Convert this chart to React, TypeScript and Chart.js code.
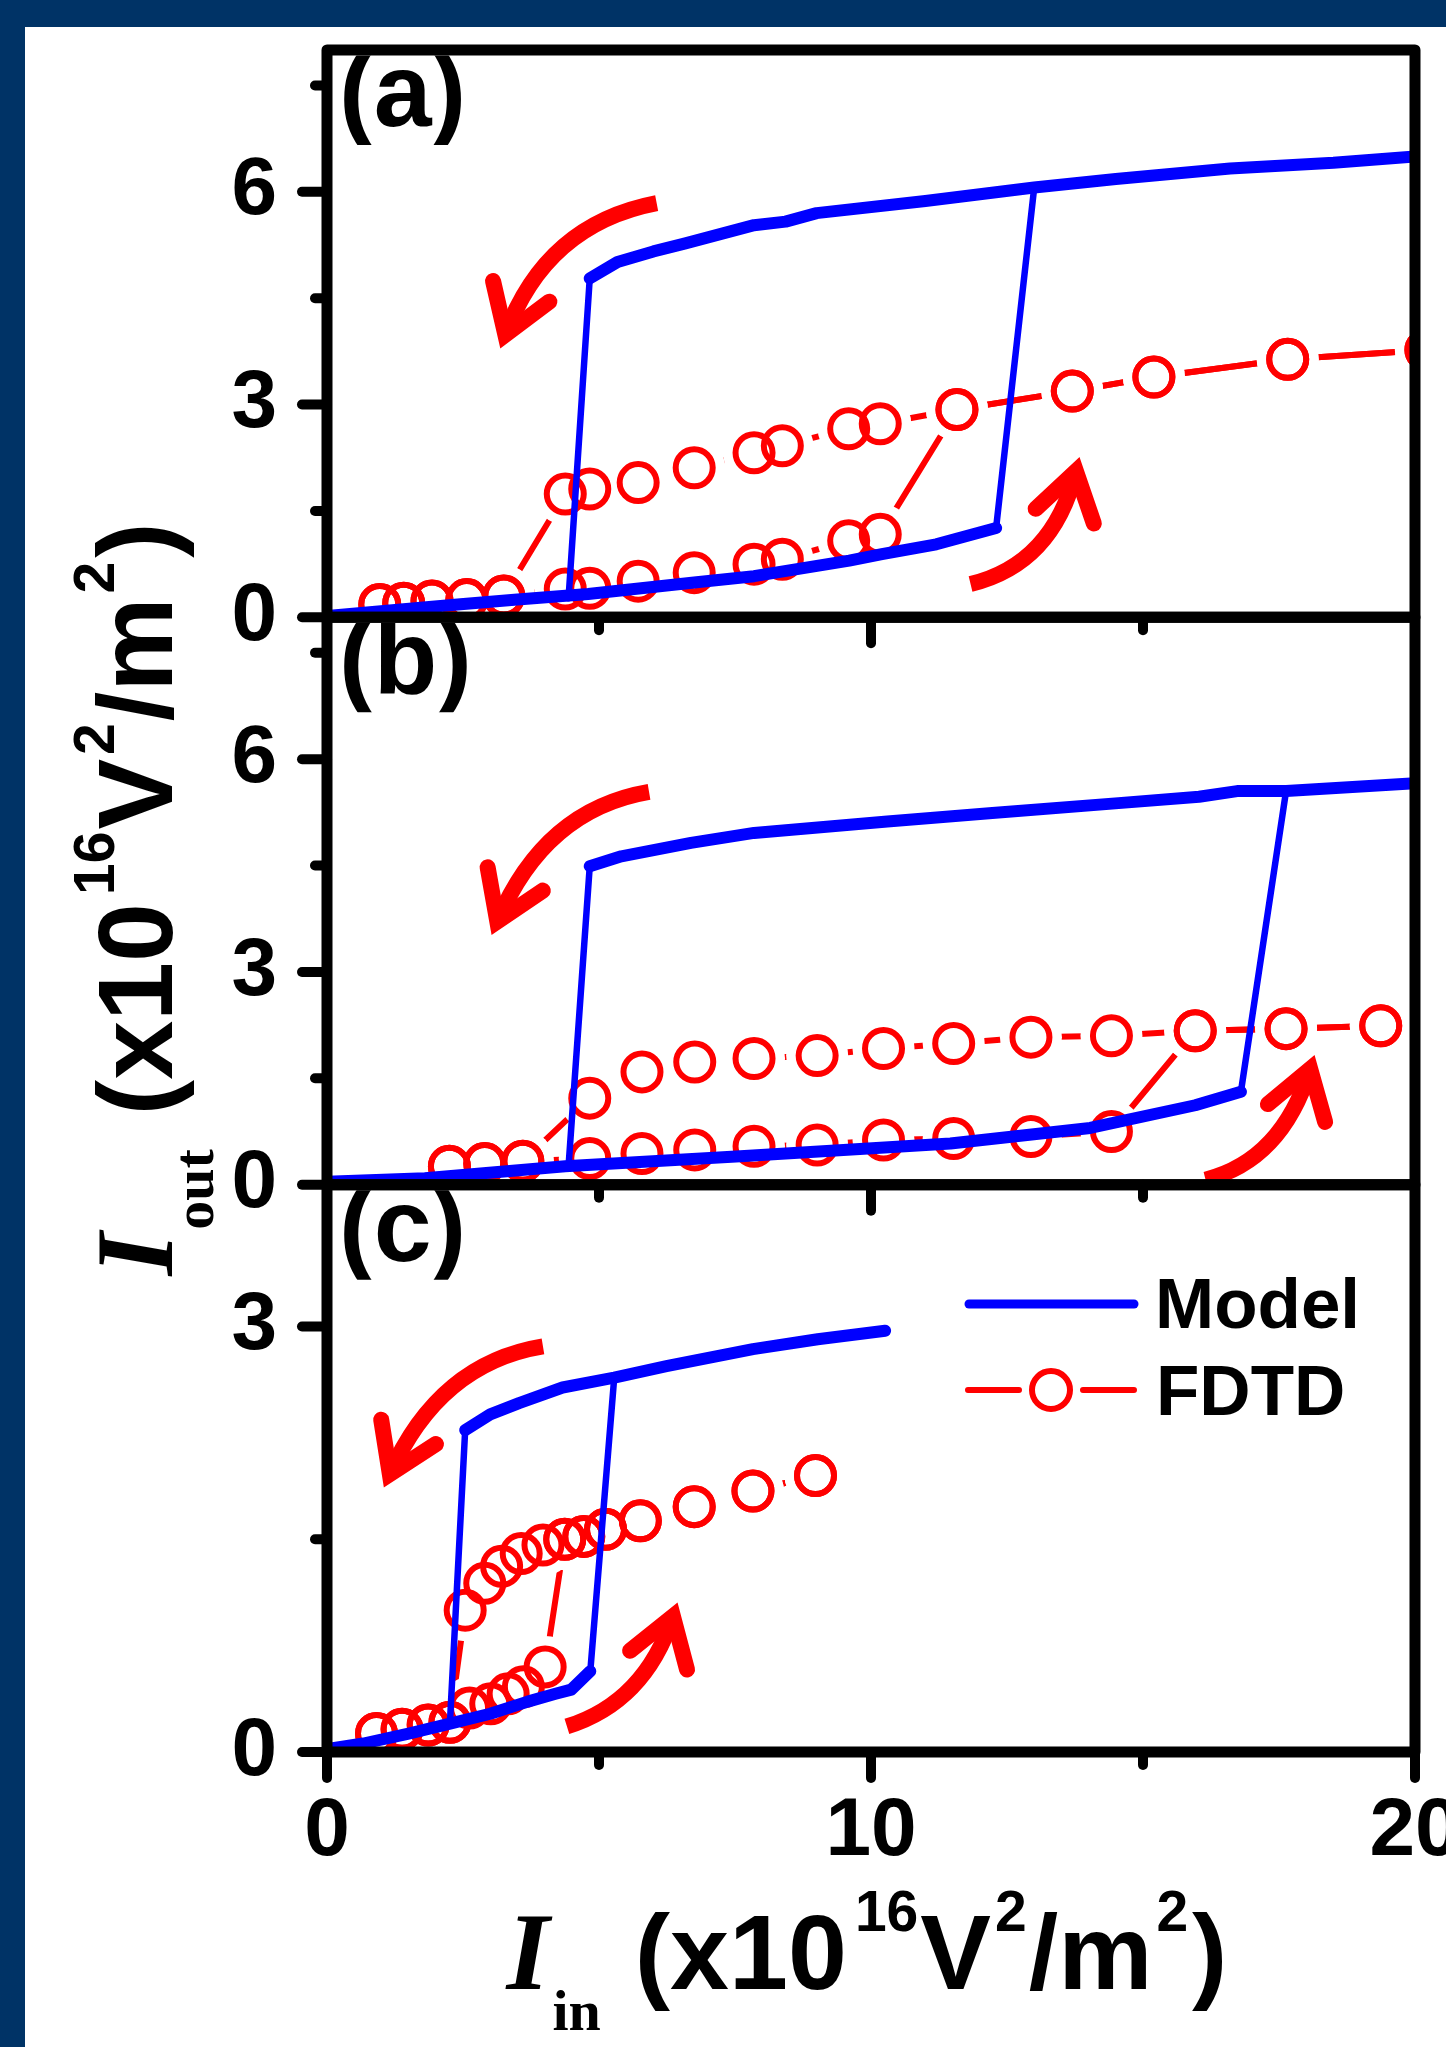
import { useEffect, useRef } from "react";
import { Chart, registerables } from "chart.js";

Chart.register(...registerables);

type P = [number, number];

const W = 1446;
const H = 2047;
const BLUE = "#0000ff";
const RED = "#ff0000";
const SANS = '"Liberation Sans", Arial, sans-serif';
const SERIF = '"Liberation Serif", "Times New Roman", serif';

// ---------- axis ticks ----------
const xMajorTicks = [0, 10, 20];
const xMinorTicks = [5, 15];
const yMajorTicksAB = [0, 3, 6];
const yMinorTicksAB = [1.5, 4.5, 7.5];
const yMajorTicksC = [0, 3];
const yMinorTicksC = [1.5];
const panelLabels = ["(a)", "(b)", "(c)"];
const legendLabels = ["Model", "FDTD"];

// ---------- panel (a) ----------
const aModelLower: P[] = [[0, 0.02], [1.2, 0.1], [2.4, 0.18], [3.5, 0.25], [4.8, 0.33], [6.75, 0.49], [7.85, 0.58], [9.6, 0.8], [10.2, 0.89], [11.2, 1.03], [12.3, 1.26]];
const aModelUpper: P[] = [[4.83, 4.78], [5.34, 5.01], [6.0, 5.16], [6.57, 5.27], [7.85, 5.53], [8.43, 5.58], [9.0, 5.7], [11.0, 5.87], [13.0, 6.06], [14.5, 6.18], [16.6, 6.33], [18.5, 6.41], [20, 6.5]];
const aJumpUp: P[] = [[12.3, 1.26], [13.0, 6.06]];
const aJumpDown: P[] = [[4.83, 4.78], [4.44, 0.27]];
const aFdtdUp: P[] = [[0.97, 0.18], [1.41, 0.2], [1.93, 0.23], [2.57, 0.25], [3.25, 0.3], [4.38, 0.4], [4.83, 0.41], [5.72, 0.51], [6.75, 0.63], [7.85, 0.75], [8.37, 0.82], [9.59, 1.08], [10.17, 1.17], [11.58, 2.93], [13.7, 3.19], [15.2, 3.39], [17.66, 3.64], [20.2, 3.77]];
const aFdtdDown: P[] = [[20.2, 3.77], [17.66, 3.64], [15.2, 3.39], [13.7, 3.19], [11.58, 2.93], [10.17, 2.73], [9.59, 2.66], [8.37, 2.42], [7.85, 2.32], [6.75, 2.11], [5.72, 1.9], [4.83, 1.81], [4.38, 1.74], [3.25, 0.3], [2.57, 0.25], [1.93, 0.23], [1.41, 0.2], [0.97, 0.18]];
const aArrowDown: P[] = [[6.06, 5.84], [4.02, 5.54], [3.19, 3.8]];
const aArrowUp: P[] = [[11.83, 0.47], [13.34, 0.75], [13.83, 2.25]];

// ---------- panel (b) ----------
const bModelLower: P[] = [[0, 0.04], [1.8, 0.09], [4.38, 0.26], [7.6, 0.4], [11.46, 0.58], [14.03, 0.8], [15.96, 1.12], [16.8, 1.31]];
const bModelUpper: P[] = [[4.83, 4.49], [5.41, 4.63], [6.69, 4.82], [7.85, 4.96], [10.3, 5.12], [12.23, 5.24], [14.55, 5.38], [16.03, 5.47], [16.73, 5.55], [17.63, 5.55], [20, 5.66]];
const bJumpUp: P[] = [[16.8, 1.31], [17.63, 5.55]];
const bJumpDown: P[] = [[4.83, 4.49], [4.44, 0.26]];
const bFdtdUp: P[] = [[2.25, 0.26], [2.9, 0.3], [3.6, 0.33], [4.83, 0.37], [5.79, 0.44], [6.76, 0.49], [7.85, 0.54], [9.01, 0.56], [10.23, 0.63], [11.52, 0.65], [12.94, 0.68], [14.42, 0.75], [15.96, 2.17], [17.63, 2.2], [19.37, 2.24], [21.0, 2.27]];
const bFdtdDown: P[] = [[21.0, 2.27], [19.37, 2.24], [17.63, 2.2], [15.96, 2.17], [14.42, 2.1], [12.94, 2.08], [11.52, 1.99], [10.23, 1.92], [9.01, 1.82], [7.85, 1.78], [6.76, 1.73], [5.79, 1.59], [4.83, 1.22], [3.6, 0.33], [2.9, 0.3], [2.25, 0.26]];
const bArrowDown: P[] = [[5.92, 5.54], [4.0, 5.29], [3.03, 3.53]];
const bArrowUp: P[] = [[16.15, 0.07], [17.55, 0.34], [18.15, 1.82]];

// ---------- panel (c) ----------
const cModelLower: P[] = [[0, 0.02], [0.67, 0.06], [1.5, 0.13], [2.26, 0.2], [3.0, 0.27], [3.69, 0.355], [4.2, 0.41], [4.49, 0.44], [4.84, 0.57]];
const cModelUpper: P[] = [[2.54, 2.27], [3.0, 2.38], [3.53, 2.46], [4.33, 2.57], [5.28, 2.64], [6.24, 2.72], [7.83, 2.84], [9.02, 2.91], [10.26, 2.97]];
const cJumpUp: P[] = [[4.84, 0.57], [5.28, 2.64]];
const cJumpDown: P[] = [[2.54, 2.27], [2.26, 0.21]];
const cFdtdUp: P[] = [[0.91, 0.13], [1.38, 0.16], [1.86, 0.19], [2.26, 0.21], [2.62, 0.31], [3.01, 0.34], [3.33, 0.41], [3.61, 0.46], [4.01, 0.6], [4.37, 1.5], [4.72, 1.52], [5.12, 1.57], [5.76, 1.63], [6.75, 1.73], [7.83, 1.84], [8.98, 1.95]];
const cFdtdDown: P[] = [[8.98, 1.95], [7.83, 1.84], [6.75, 1.73], [5.76, 1.63], [5.12, 1.57], [4.72, 1.52], [4.37, 1.5], [3.97, 1.46], [3.57, 1.4], [3.21, 1.31], [2.9, 1.19], [2.54, 1.0], [2.26, 0.21], [1.86, 0.19], [1.38, 0.16], [0.91, 0.13]];
const cArrowDown: P[] = [[3.97, 2.86], [2.06, 2.74], [1.05, 1.87]];
const cArrowUp: P[] = [[4.41, 0.18], [5.84, 0.35], [6.44, 1.05]];

// ---------- layout constants ----------
const PLOT_LEFT = 327;
const PLOT_RIGHT_PAD = 29;
const PLOT_TOP = 50;
const PLOT_BOTTOM = 1752;

const toXY = (pts: P[]) => pts.map(([x, y]) => ({ x, y }));

type Seg = { t: string; font: string; dy?: number; gap?: number };

function drawRich(ctx: CanvasRenderingContext2D, segs: Seg[], cx: number, by: number) {
  let total = 0;
  for (const s of segs) {
    ctx.font = s.font;
    total += (s.gap || 0) + ctx.measureText(s.t).width;
  }
  let x = cx - total / 2;
  ctx.textAlign = "left";
  ctx.textBaseline = "alphabetic";
  for (const s of segs) {
    ctx.font = s.font;
    x += s.gap || 0;
    ctx.fillText(s.t, x, by + (s.dy || 0));
    x += ctx.measureText(s.t).width;
  }
}

const T_MAIN = `bold 106px ${SANS}`;
const T_SUP = `bold 57px ${SANS}`;
const T_I = `italic bold 110px ${SERIF}`;
const T_SUB = `bold 58px ${SERIF}`;

const titleSegs = (sub: string): Seg[] => [
  { t: "I", font: T_I },
  { t: sub, font: T_SUB, dy: 41, gap: 3 },
  { t: "(x10", font: T_MAIN, gap: 34 },
  { t: "16", font: T_SUP, dy: -58, gap: 8 },
  { t: "V", font: T_MAIN, gap: 2 },
  { t: "2", font: T_SUP, dy: -58, gap: 4 },
  { t: "/m", font: T_MAIN, gap: 2 },
  { t: "2", font: T_SUP, dy: -58, gap: 4 },
  { t: ")", font: T_MAIN, gap: 4 },
];

function drawArrow(ctx: CanvasRenderingContext2D, xs: any, ys: any, pts: P[]) {
  const [t, c, h] = pts.map(([x, y]) => [xs.getPixelForValue(x), ys.getPixelForValue(y)]);
  let dx = h[0] - c[0];
  let dy = h[1] - c[1];
  const len = Math.hypot(dx, dy);
  dx /= len;
  dy /= len;
  const j = [h[0] - 14 * dx, h[1] - 14 * dy];
  ctx.save();
  ctx.strokeStyle = RED;
  ctx.lineWidth = 16;
  ctx.lineCap = "butt";
  ctx.beginPath();
  ctx.moveTo(t[0], t[1]);
  ctx.quadraticCurveTo(c[0], c[1], j[0], j[1]);
  ctx.stroke();
  const ang = (33 * Math.PI) / 180;
  const L = 55;
  const bx = -dx;
  const by = -dy;
  const w1 = [bx * Math.cos(ang) - by * Math.sin(ang), bx * Math.sin(ang) + by * Math.cos(ang)];
  const w2 = [bx * Math.cos(-ang) - by * Math.sin(-ang), bx * Math.sin(-ang) + by * Math.cos(-ang)];
  ctx.lineWidth = 16;
  ctx.lineCap = "round";
  ctx.lineJoin = "miter";
  ctx.miterLimit = 10;
  ctx.beginPath();
  ctx.moveTo(j[0] + L * w1[0], j[1] + L * w1[1]);
  ctx.lineTo(j[0], j[1]);
  ctx.lineTo(j[0] + L * w2[0], j[1] + L * w2[1]);
  ctx.stroke();
  ctx.restore();
}

export default function App() {
  const ref = useRef<HTMLCanvasElement>(null);

  useEffect(() => {
    const canvas = ref.current;
    if (!canvas) return;

    const panels = [
      { y: "ya", lower: aModelLower, upper: aModelUpper, jumps: [aJumpUp, aJumpDown], fdtd: [aFdtdUp, aFdtdDown], arrows: [aArrowDown, aArrowUp], major: yMajorTicksAB, minor: yMinorTicksAB },
      { y: "yb", lower: bModelLower, upper: bModelUpper, jumps: [bJumpUp, bJumpDown], fdtd: [bFdtdUp, bFdtdDown], arrows: [bArrowDown, bArrowUp], major: yMajorTicksAB, minor: yMinorTicksAB },
      { y: "yc", lower: cModelLower, upper: cModelUpper, jumps: [cJumpUp, cJumpDown], fdtd: [cFdtdUp, cFdtdDown], arrows: [cArrowDown, cArrowUp], major: yMajorTicksC, minor: yMinorTicksC },
    ];

    const datasets: any[] = [];
    for (const p of panels) {
      for (const path of p.fdtd) {
        datasets.push({
          label: "FDTD line", data: toXY(path), xAxisID: "x", yAxisID: p.y,
          borderColor: RED, borderWidth: 6, pointRadius: 0, tension: 0, fill: false,
          borderCapStyle: "round", borderJoinStyle: "round", order: 5,
        });
        datasets.push({
          label: "FDTD gap", data: toXY(path), xAxisID: "x", yAxisID: p.y, showLine: false,
          pointRadius: 31, pointBackgroundColor: "#ffffff", pointBorderWidth: 0,
          pointBorderColor: "rgba(0,0,0,0)", order: 4,
        });
        datasets.push({
          label: "FDTD", data: toXY(path), xAxisID: "x", yAxisID: p.y, showLine: false,
          pointRadius: 18.5, pointBorderWidth: 6, pointBorderColor: RED,
          pointBackgroundColor: "rgba(0,0,0,0)", order: 3,
        });
      }
      for (const j of p.jumps) {
        datasets.push({
          label: "Model jump", data: toXY(j), xAxisID: "x", yAxisID: p.y,
          borderColor: BLUE, borderWidth: 6.5, pointRadius: 0, tension: 0, fill: false,
          borderCapStyle: "round", order: 2,
        });
      }
      for (const b of [p.lower, p.upper]) {
        datasets.push({
          label: "Model", data: toXY(b), xAxisID: "x", yAxisID: p.y,
          borderColor: BLUE, borderWidth: 12, pointRadius: 0, tension: 0, fill: false,
          borderCapStyle: "round", borderJoinStyle: "round", order: 1,
        });
      }
    }

    const tickFont = { family: SANS, size: 82, weight: "bold" as const };
    const yScale = (max: number) => ({
      type: "linear" as const,
      position: "left" as const,
      stack: "panels",
      stackWeight: 1,
      min: 0,
      max,
      ticks: { stepSize: 3, padding: 50, font: tickFont, color: "#000", includeBounds: false, autoSkip: false },
      grid: { display: false, drawTicks: false },
      border: { display: false },
      afterFit: (s: any) => {
        s.width = PLOT_LEFT;
        s.paddingTop = 0;
        s.paddingBottom = 0;
      },
    });

    const decor = {
      id: "decor",
      beforeDraw(chart: any) {
        const ctx = chart.ctx as CanvasRenderingContext2D;
        ctx.save();
        ctx.fillStyle = "#003366";
        ctx.fillRect(0, 0, W, H);
        ctx.fillStyle = "#ffffff";
        ctx.fillRect(25, 27, W - 25, H - 27);
        ctx.restore();
      },
      afterDatasetsDraw(chart: any) {
        const ctx = chart.ctx as CanvasRenderingContext2D;
        const xs = chart.scales.x;
        const left = chart.chartArea.left;
        const right = chart.chartArea.right;
        for (const p of panels) {
          const ys = chart.scales[p.y];
          for (const a of p.arrows) drawArrow(ctx, xs, ys, a);
        }
        ctx.save();
        ctx.strokeStyle = "#000";
        ctx.lineCap = "round";
        ctx.lineWidth = 10;
        const line = (x1: number, y1: number, x2: number, y2: number) => {
          ctx.beginPath();
          ctx.moveTo(x1, y1);
          ctx.lineTo(x2, y2);
          ctx.stroke();
        };
        for (const p of panels) {
          const ys = chart.scales[p.y];
          for (const v of p.major) { const y = ys.getPixelForValue(v); line(left, y, left - 25, y); }
          for (const v of p.minor) { const y = ys.getPixelForValue(v); line(left, y, left - 12, y); }
          for (const v of xMajorTicks) { const x = xs.getPixelForValue(v); line(x, ys.bottom, x, ys.bottom + 26); }
          for (const v of xMinorTicks) { const x = xs.getPixelForValue(v); line(x, ys.bottom, x, ys.bottom + 13); }
        }
        ctx.lineWidth = 11;
        ctx.lineJoin = "round";
        for (const p of panels) {
          const ys = chart.scales[p.y];
          ctx.strokeRect(left, ys.top, right - left, ys.bottom - ys.top);
        }
        ctx.restore();
      },
      afterDraw(chart: any) {
        const ctx = chart.ctx as CanvasRenderingContext2D;
        const left = chart.chartArea.left;
        const area = chart.chartArea;
        ctx.save();
        ctx.fillStyle = "#000";
        panels.forEach((p, i) => {
          const ys = chart.scales[p.y];
          ctx.save();
          ctx.beginPath();
          ctx.rect(left + 6, ys.top + 5.5, 320, 89.5);
          ctx.clip();
          ctx.font = `bold 104px ${SANS}`;
          ctx.textAlign = "left";
          ctx.textBaseline = "alphabetic";
          ctx.fillText(panelLabels[i], 339, ys.top + 76);
          ctx.restore();
        });
        // legend (inside panel c)
        ctx.lineCap = "round";
        ctx.strokeStyle = BLUE;
        ctx.lineWidth = 9;
        ctx.beginPath();
        ctx.moveTo(969, 1304);
        ctx.lineTo(1134, 1304);
        ctx.stroke();
        ctx.strokeStyle = RED;
        ctx.lineWidth = 6;
        ctx.beginPath();
        ctx.moveTo(968, 1390);
        ctx.lineTo(1019, 1390);
        ctx.moveTo(1083, 1390);
        ctx.lineTo(1134, 1390);
        ctx.stroke();
        ctx.lineWidth = 6;
        ctx.beginPath();
        ctx.arc(1051, 1390, 19, 0, Math.PI * 2);
        ctx.stroke();
        ctx.font = `bold 71px ${SANS}`;
        ctx.textAlign = "left";
        ctx.textBaseline = "alphabetic";
        ctx.fillText(legendLabels[0], 1155, 1328);
        ctx.fillText(legendLabels[1], 1156, 1415);
        drawRich(ctx, titleSegs("in"), (area.left + area.right) / 2 - 4, 1989);
        ctx.translate(172, (area.top + area.bottom) / 2 - 2);
        ctx.rotate(-Math.PI / 2);
        drawRich(ctx, titleSegs("out"), 0, 0);
        ctx.restore();
      },
    };

    const chart = new Chart(canvas, {
      type: "line",
      data: { datasets },
      options: {
        responsive: false,
        maintainAspectRatio: false,
        animation: false,
        devicePixelRatio: 1,
        events: [],
        layout: { padding: { left: 0, right: PLOT_RIGHT_PAD, top: PLOT_TOP, bottom: 0 } },
        plugins: { legend: { display: false }, tooltip: { enabled: false }, title: { display: false } },
        scales: {
          x: {
            type: "linear",
            position: "bottom",
            min: 0,
            max: 20,
            ticks: { stepSize: 10, padding: 31, font: tickFont, color: "#000", maxRotation: 0, autoSkip: false, includeBounds: false },
            grid: { display: false, drawTicks: false },
            border: { display: false },
            afterFit: (s: any) => {
              s.height = H - PLOT_BOTTOM;
              s.paddingLeft = 0;
              s.paddingRight = 0;
            },
          },
          yc: yScale(4),
          yb: yScale(8),
          ya: yScale(8),
        } as any,
      },
      plugins: [decor],
    });

    return () => chart.destroy();
  }, []);

  return (
    <div style={{ position: "absolute", left: 0, top: 0, width: W, height: H, overflow: "hidden" }}>
      <canvas ref={ref} width={W} height={H} style={{ display: "block", width: W, height: H }} />
    </div>
  );
}
